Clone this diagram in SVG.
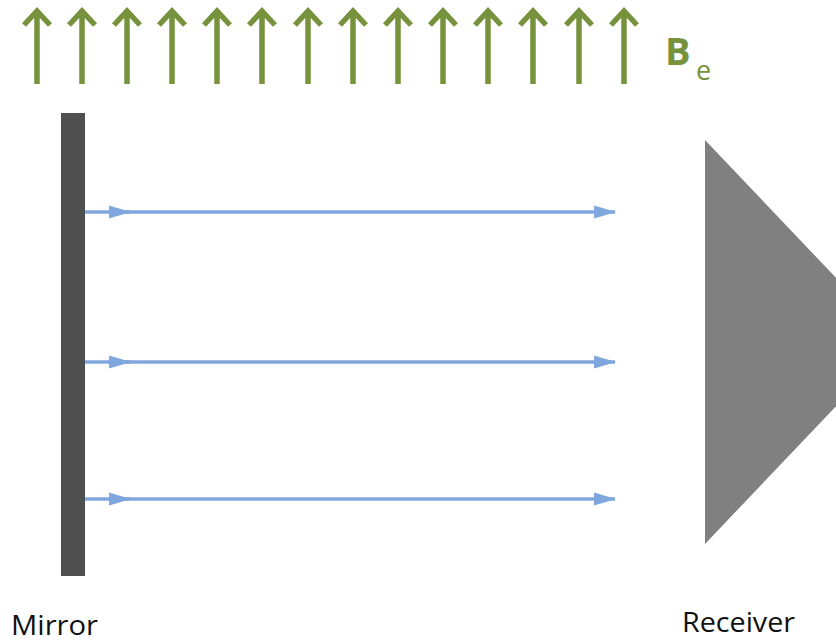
<svg xmlns="http://www.w3.org/2000/svg" width="836" height="642" viewBox="0 0 836 642">
<defs>
<style>
.field{stroke:#76923c;stroke-width:5.5;fill:none;stroke-linecap:butt;stroke-linejoin:miter}
.ray{stroke:#7fa7dd;stroke-width:3.5;fill:none}
.label{font-family:"Open Sans","Liberation Sans",sans-serif;font-size:28px;fill:#111}
</style>
<marker id="ah" viewBox="0 0 20 12" refX="19" refY="6" markerWidth="6.3" markerHeight="3.8" markerUnits="strokeWidth" orient="auto"><path d="M0,0 L20,6 L0,12 Z" fill="#7fa7dd"/></marker>
<g id="fieldArrow"><path class="field" d="M0,84 V12 M-13,25 L0,11 L13,25"/></g>
</defs>
<rect width="836" height="642" fill="#fff"/>
<g id="field">
<use href="#fieldArrow" x="37"/><use href="#fieldArrow" x="82"/><use href="#fieldArrow" x="127"/><use href="#fieldArrow" x="172"/><use href="#fieldArrow" x="217"/><use href="#fieldArrow" x="262"/><use href="#fieldArrow" x="308"/><use href="#fieldArrow" x="353"/><use href="#fieldArrow" x="398"/><use href="#fieldArrow" x="443"/><use href="#fieldArrow" x="488"/><use href="#fieldArrow" x="533"/><use href="#fieldArrow" x="579"/><use href="#fieldArrow" x="624"/>
<text x="665" y="65" font-family="'Open Sans','Liberation Sans',sans-serif" font-weight="bold" font-size="38" fill="#76923c">B<tspan x="696" font-weight="normal" font-size="27" y="80">e</tspan></text>
</g>
<g id="mirror"><rect x="61" y="113" width="24" height="463" fill="#4f4f4f"/>
<text class="label" x="11" y="635" textLength="87" lengthAdjust="spacingAndGlyphs">Mirror</text></g>
<g id="receiver"><polygon points="705,140 897,342 705,544" fill="#808080"/>
<text class="label" x="682" y="632" textLength="113" lengthAdjust="spacingAndGlyphs">Receiver</text></g>
<g id="connectors">
<path class="ray" d="M85,212 H130" marker-end="url(#ah)"/>
<path class="ray" d="M125,212 H615" marker-end="url(#ah)"/>
<path class="ray" d="M85,362 H130" marker-end="url(#ah)"/>
<path class="ray" d="M125,362 H615" marker-end="url(#ah)"/>
<path class="ray" d="M85,499 H130" marker-end="url(#ah)"/>
<path class="ray" d="M125,499 H615" marker-end="url(#ah)"/>
</g>
</svg>
